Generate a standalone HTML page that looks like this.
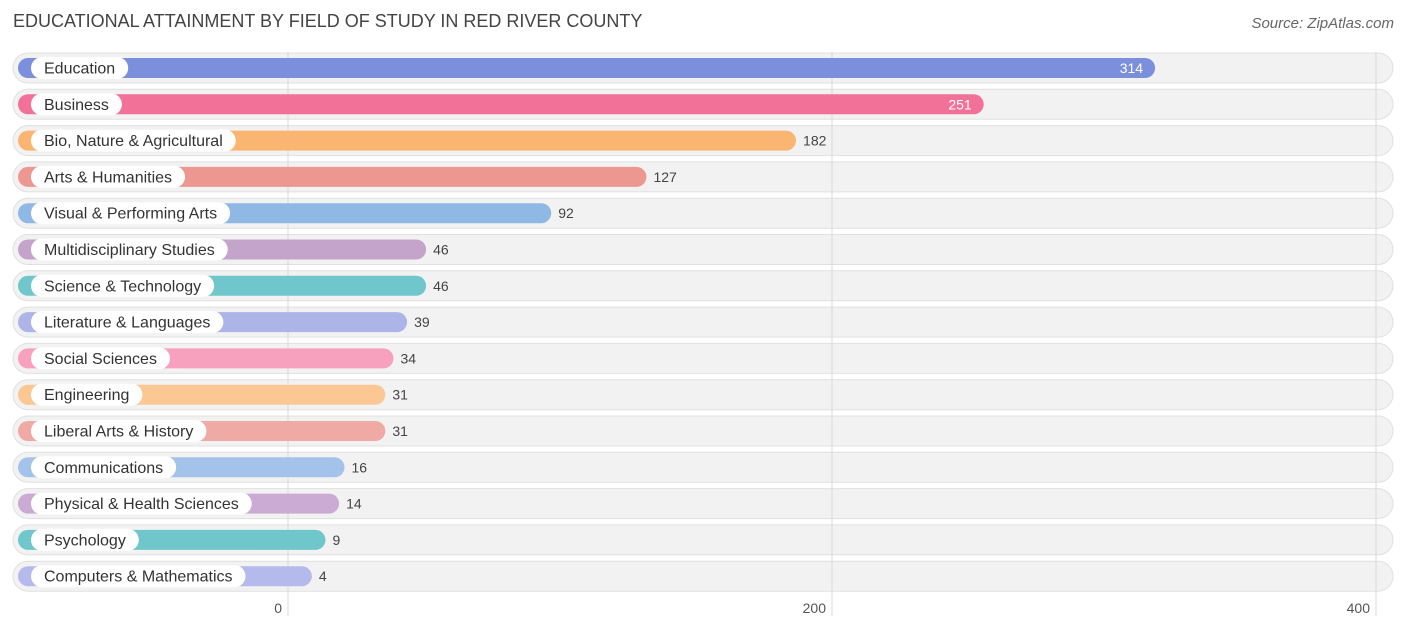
<!DOCTYPE html>
<html><head><meta charset="utf-8"><style>
body{margin:0;background:#fff;font-family:"Liberation Sans",Arial,sans-serif;}
#c{position:relative;width:1406px;height:631px;overflow:hidden;}
.t{position:absolute;left:13px;top:11px;font-size:18px;color:#444;}
.s{position:absolute;right:12px;top:15px;font-size:15px;color:#666;font-style:italic;}
</style></head><body>
<div id="c">
<div class="t">EDUCATIONAL ATTAINMENT BY FIELD OF STUDY IN RED RIVER COUNTY</div>
<div class="s">Source: ZipAtlas.com</div>
<svg id="svg" width="1406" height="631" style="position:absolute;left:0;top:0"></svg>
</div>
<script>
const categories=["Education","Business","Bio, Nature & Agricultural","Arts & Humanities","Visual & Performing Arts","Multidisciplinary Studies","Science & Technology","Literature & Languages","Social Sciences","Engineering","Liberal Arts & History","Communications","Physical & Health Sciences","Psychology","Computers & Mathematics"];
const values=[314,251,182,127,92,46,46,39,34,31,31,16,14,9,4];
const colors=["#7b8fdc","#f27198","#fbb572","#ec9890","#90b8e4","#c5a4cc","#6fc6cb","#adb5e8","#f7a1bf","#fbc793","#f0aaa6","#a3c3ea","#cbabd3","#6fc6cb","#b4bbec"];
const ticks=[0,200,400];
const NS="http://www.w3.org/2000/svg";
const svg=document.getElementById('svg');
const x=v=>288+v*2.72;
const y=i=>68+i*36.3;
function mk(t,a){const e=document.createElementNS(NS,t);for(const k in a)e.setAttribute(k,a[k]);svg.appendChild(e);return e;}
categories.forEach((c,i)=>{
 const r=mk('rect',{x:13,y:y(i)-15,width:1380,height:30,rx:15,fill:'#f2f2f2',stroke:'#e0e0e0','stroke-width':1});
 
 
});
ticks.forEach(t=>{
 const l=mk('line',{x1:x(t),x2:x(t),y1:52,y2:616,stroke:'#d8d8d8','stroke-width':1});
 
 
 const tx=mk('text',{x:x(t)-6,y:613,'text-anchor':'end','font-size':14,fill:'#555'});
 tx.textContent=t;
 
 
});
categories.forEach((c,i)=>{
 const cy=y(i);
 const end=x(values[i])+13;
 const b=mk('rect',{x:18,y:cy-10,width:end-18,height:20,rx:10,fill:colors[i]});
 
 
 const tx=mk('text',{x:44,y:cy+5.5,'font-size':16,fill:'#333'});
 tx.textContent=c;
 const w=tx.getComputedTextLength();
 const p=mk('rect',{x:31,y:cy-11,width:w+26,height:22,rx:11,fill:'#fff'});
 svg.insertBefore(p,tx);
 
 
 
 
 const inside=values[i]>200;
 const v=mk('text',{x:inside?end-12:end+7,y:cy+5,'font-size':14,'text-anchor':inside?'end':'start',fill:inside?'#fff':'#444'});
 v.textContent=values[i];
 
 
});
</script>
</body></html>
